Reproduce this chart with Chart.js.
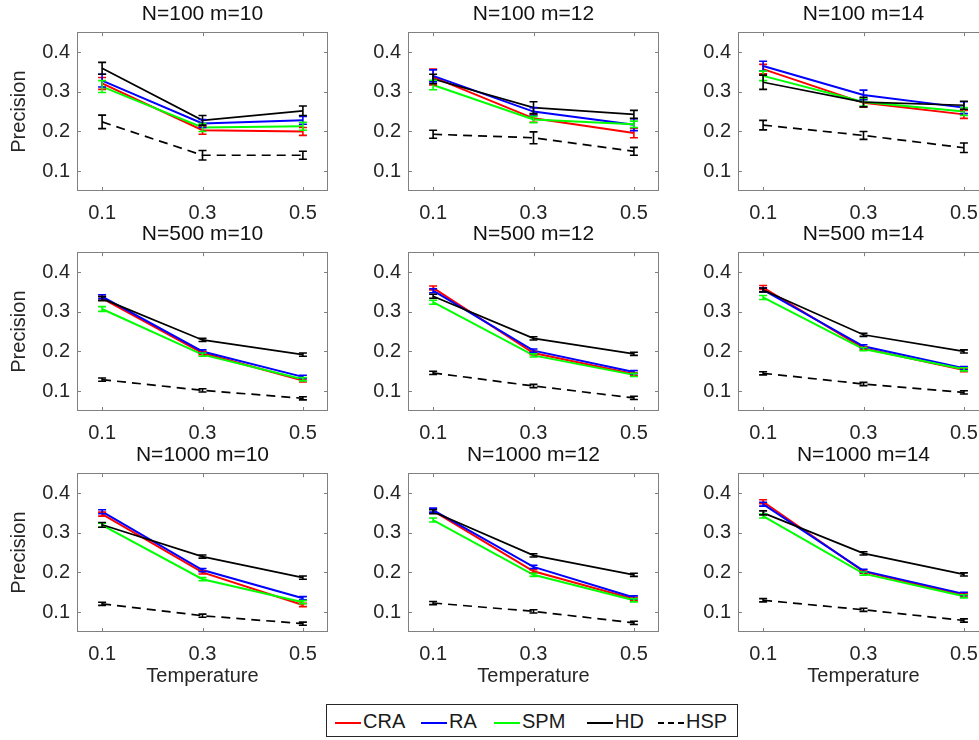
<!DOCTYPE html>
<html>
<head>
<meta charset="utf-8">
<script src="https://cdn.jsdelivr.net/npm/chart.js@4.4.0/dist/chart.umd.min.js"></script>
<style>
  html, body { margin: 0; padding: 0; background: #fff; }
  body { width: 979px; height: 740px; overflow: hidden; position: relative; }
  canvas { position: absolute; }
  #legend {
    position: absolute; left: 326px; top: 704px; width: 410px; height: 31px;
    border: 1px solid #262626; background: #fff;
    font-family: "Liberation Sans", Arial, sans-serif; font-size: 20px; color: #1a1a1a;
  }
  #legend .item { position: absolute; top: 4px; line-height: 24px; white-space: nowrap; }
  #legend .line { display: inline-block; width: 26px; vertical-align: middle; margin-right: 2px; }
</style>
</head>
<body>
<div id="legend"></div>
<script>
// x values (temperature) and y ticks
const temps = [0.1, 0.3, 0.5];
const yTicks = [0.1, 0.2, 0.3, 0.4];
const titles = ["N=100 m=10", "N=100 m=12", "N=100 m=14",
                "N=500 m=10", "N=500 m=12", "N=500 m=14",
                "N=1000 m=10", "N=1000 m=12", "N=1000 m=14"];

// one row per panel, values at temps 0.1 / 0.3 / 0.5
const CRA = [
  [0.321, 0.203, 0.200], [0.337, 0.233, 0.196], [0.357, 0.272, 0.243],
  [0.334, 0.196, 0.127], [0.360, 0.196, 0.143], [0.361, 0.208, 0.153],
  [0.347, 0.200, 0.118], [0.355, 0.203, 0.133], [0.378, 0.202, 0.142]
];
const RA = [
  [0.328, 0.220, 0.228], [0.340, 0.250, 0.217], [0.365, 0.292, 0.260],
  [0.338, 0.200, 0.136], [0.353, 0.202, 0.148], [0.355, 0.213, 0.158],
  [0.353, 0.206, 0.135], [0.357, 0.214, 0.137], [0.372, 0.204, 0.146]
];
const SPM = [
  [0.313, 0.210, 0.213], [0.317, 0.230, 0.218], [0.340, 0.274, 0.250],
  [0.307, 0.192, 0.130], [0.324, 0.190, 0.141], [0.336, 0.206, 0.155],
  [0.319, 0.183, 0.125], [0.332, 0.194, 0.130], [0.342, 0.197, 0.140]
];
const HD = [
  [0.359, 0.228, 0.252], [0.332, 0.260, 0.243], [0.324, 0.274, 0.266],
  [0.333, 0.229, 0.192], [0.339, 0.233, 0.194], [0.355, 0.242, 0.200],
  [0.320, 0.240, 0.187], [0.353, 0.243, 0.194], [0.350, 0.248, 0.195]
];
const HSP = [
  [0.224, 0.140, 0.140], [0.193, 0.184, 0.150], [0.216, 0.190, 0.159],
  [0.129, 0.102, 0.082], [0.146, 0.113, 0.083], [0.145, 0.118, 0.097],
  [0.121, 0.091, 0.071], [0.123, 0.102, 0.073], [0.130, 0.106, 0.079]
];

// error bar half-lengths
const CRA_ERR = [
  [0.015, 0.010, 0.010], [0.020, 0.010, 0.012], [0.012, 0.010, 0.010],
  [0.005, 0.004, 0.004], [0.005, 0.004, 0.004], [0.005, 0.004, 0.004],
  [0.005, 0.004, 0.004], [0.005, 0.004, 0.004], [0.005, 0.004, 0.004]
];
const RA_ERR = [
  [0.016, 0.010, 0.010], [0.015, 0.010, 0.015], [0.012, 0.012, 0.015],
  [0.005, 0.004, 0.004], [0.005, 0.004, 0.004], [0.005, 0.004, 0.004],
  [0.005, 0.004, 0.004], [0.005, 0.004, 0.004], [0.005, 0.004, 0.004]
];
const SPM_ERR = [
  [0.015, 0.010, 0.010], [0.012, 0.008, 0.008], [0.012, 0.010, 0.010],
  [0.006, 0.004, 0.004], [0.005, 0.004, 0.004], [0.005, 0.004, 0.004],
  [0.005, 0.004, 0.004], [0.005, 0.004, 0.004], [0.005, 0.004, 0.004]
];
const HD_ERR = [
  [0.015, 0.012, 0.012], [0.012, 0.015, 0.010], [0.018, 0.012, 0.010],
  [0.005, 0.004, 0.004], [0.005, 0.004, 0.004], [0.005, 0.004, 0.004],
  [0.006, 0.004, 0.004], [0.005, 0.004, 0.004], [0.005, 0.004, 0.004]
];
const HSP_ERR = [
  [0.017, 0.012, 0.010], [0.010, 0.015, 0.010], [0.012, 0.010, 0.012],
  [0.004, 0.004, 0.004], [0.004, 0.004, 0.004], [0.004, 0.004, 0.004],
  [0.004, 0.004, 0.004], [0.004, 0.004, 0.004], [0.004, 0.004, 0.004]
];

const seriesNames = ["CRA", "RA", "SPM", "HD", "HSP"];
const seriesColors = ["#ff0000", "#0000ff", "#00ff00", "#000000", "#000000"];
const seriesVals = [CRA, RA, SPM, HD, HSP];
const seriesErr = [CRA_ERR, RA_ERR, SPM_ERR, HD_ERR, HSP_ERR];

const FONT = '"Liberation Sans", Arial, sans-serif';
const colLeft = [77, 408, 738];
const rowTop = [32, 252, 473];
const boxW = 251, boxH = 159;
const titleH = 34, padR = 18;

// draws error bars, the box and inward tick marks like matlab
const matlabAxes = {
  id: 'matlabAxes',
  afterDatasetsDraw(chart) {
    const ctx = chart.ctx, xs = chart.scales.x, ys = chart.scales.y;
    chart.data.datasets.forEach(ds => {
      ctx.save();
      ctx.strokeStyle = ds.borderColor;
      ctx.lineWidth = 1.6;
      ctx.setLineDash([]);
      ctx.beginPath();
      ds.data.forEach((p, j) => {
        const px = xs.getPixelForValue(p.x);
        const t = ys.getPixelForValue(p.y + ds.err[j]);
        const b = ys.getPixelForValue(p.y - ds.err[j]);
        ctx.moveTo(px, t); ctx.lineTo(px, b);
        ctx.moveTo(px - 4, t); ctx.lineTo(px + 4, t);
        ctx.moveTo(px - 4, b); ctx.lineTo(px + 4, b);
      });
      ctx.stroke();
      ctx.restore();
    });
  },
  afterDraw(chart) {
    const ctx = chart.ctx, a = chart.chartArea, xs = chart.scales.x, ys = chart.scales.y;
    ctx.save();
    ctx.strokeStyle = '#808080';
    ctx.lineWidth = 1;
    ctx.strokeRect(Math.round(a.left) + 0.5, Math.round(a.top) + 0.5,
                   Math.round(a.right - a.left) - 1, Math.round(a.bottom - a.top) - 1);
    ctx.beginPath();
    temps.forEach(v => {
      const px = Math.round(xs.getPixelForValue(v)) + 0.5;
      ctx.moveTo(px, a.bottom); ctx.lineTo(px, a.bottom - 4);
      ctx.moveTo(px, a.top); ctx.lineTo(px, a.top + 4);
    });
    yTicks.forEach(v => {
      const py = Math.round(ys.getPixelForValue(v)) + 0.5;
      ctx.moveTo(a.left, py); ctx.lineTo(a.left + 4, py);
      ctx.moveTo(a.right, py); ctx.lineTo(a.right - 4, py);
    });
    ctx.stroke();
    ctx.restore();
  }
};

for (let k = 0; k < 9; k++) {
  const row = Math.floor(k / 3), col = k % 3;
  const yW = col === 0 ? 77 : 50;
  const xH = row === 2 ? 56 : 36;
  const cv = document.createElement('canvas');
  const w = yW + boxW + padR, h = titleH + boxH + xH;
  cv.width = w; cv.height = h;
  cv.style.width = w + 'px'; cv.style.height = h + 'px';
  cv.style.left = (colLeft[col] - yW) + 'px';
  cv.style.top = (rowTop[row] - titleH) + 'px';
  document.body.appendChild(cv);

  const datasets = seriesNames.map((name, s) => ({
    label: name,
    data: temps.map((t, j) => ({ x: t, y: seriesVals[s][k][j] })),
    err: seriesErr[s][k],
    borderColor: seriesColors[s],
    borderWidth: s === 3 || s === 4 ? 1.7 : 2,
    borderDash: s === 4 ? [9, 6] : [],
    pointRadius: 0,
    fill: false,
    tension: 0,
    order: 5 - s
  }));

  new Chart(cv, {
    type: 'line',
    data: { datasets },
    options: {
      responsive: false,
      animation: false,
      devicePixelRatio: 1,
      layout: { padding: { left: 0, top: 0, right: padR, bottom: 0 } },
      plugins: {
        legend: { display: false },
        tooltip: { enabled: false },
        title: {
          display: true, text: titles[k], color: '#111', fullSize: false,
          font: { size: 21, family: FONT, weight: 'normal' },
          padding: { top: 4, bottom: 5 }
        }
      },
      scales: {
        x: {
          type: 'linear', min: 0.05, max: 0.55,
          afterBuildTicks: s => { s.ticks = temps.map(v => ({ value: v })); },
          afterFit: s => { s.height = xH; },
          grid: { display: false, drawTicks: false },
          border: { display: false },
          ticks: { padding: 10, color: '#262626', font: { size: 20, family: FONT },
                   callback: v => v.toFixed(1), maxRotation: 0, autoSkip: false },
          title: { display: row === 2, text: 'Temperature', color: '#262626',
                   font: { size: 20, family: FONT }, padding: { top: 0, bottom: 0 } }
        },
        y: {
          min: 0.05, max: 0.45,
          afterBuildTicks: s => { s.ticks = yTicks.map(v => ({ value: v })); },
          afterFit: s => { s.width = yW; },
          grid: { display: false, drawTicks: false },
          border: { display: false },
          ticks: { padding: 7, color: '#262626', font: { size: 20, family: FONT },
                   callback: v => v.toFixed(1) },
          title: { display: col === 0, text: 'Precision', color: '#262626',
                   font: { size: 20, family: FONT }, padding: { top: 7, bottom: 0 } }
        }
      }
    },
    plugins: [matlabAxes]
  });
}

// legend below the grid
const legendLeft = [8, 94, 167, 260, 331];
const legend = document.getElementById('legend');
seriesNames.forEach((name, s) => {
  const item = document.createElement('span');
  item.className = 'item';
  item.style.left = legendLeft[s] + 'px';
  const ln = document.createElement('span');
  ln.className = 'line';
  ln.style.borderTop = '2px ' + (s === 4 ? 'dashed ' : 'solid ') + seriesColors[s];
  item.appendChild(ln);
  item.appendChild(document.createTextNode(name));
  legend.appendChild(item);
});
</script>
</body>
</html>
